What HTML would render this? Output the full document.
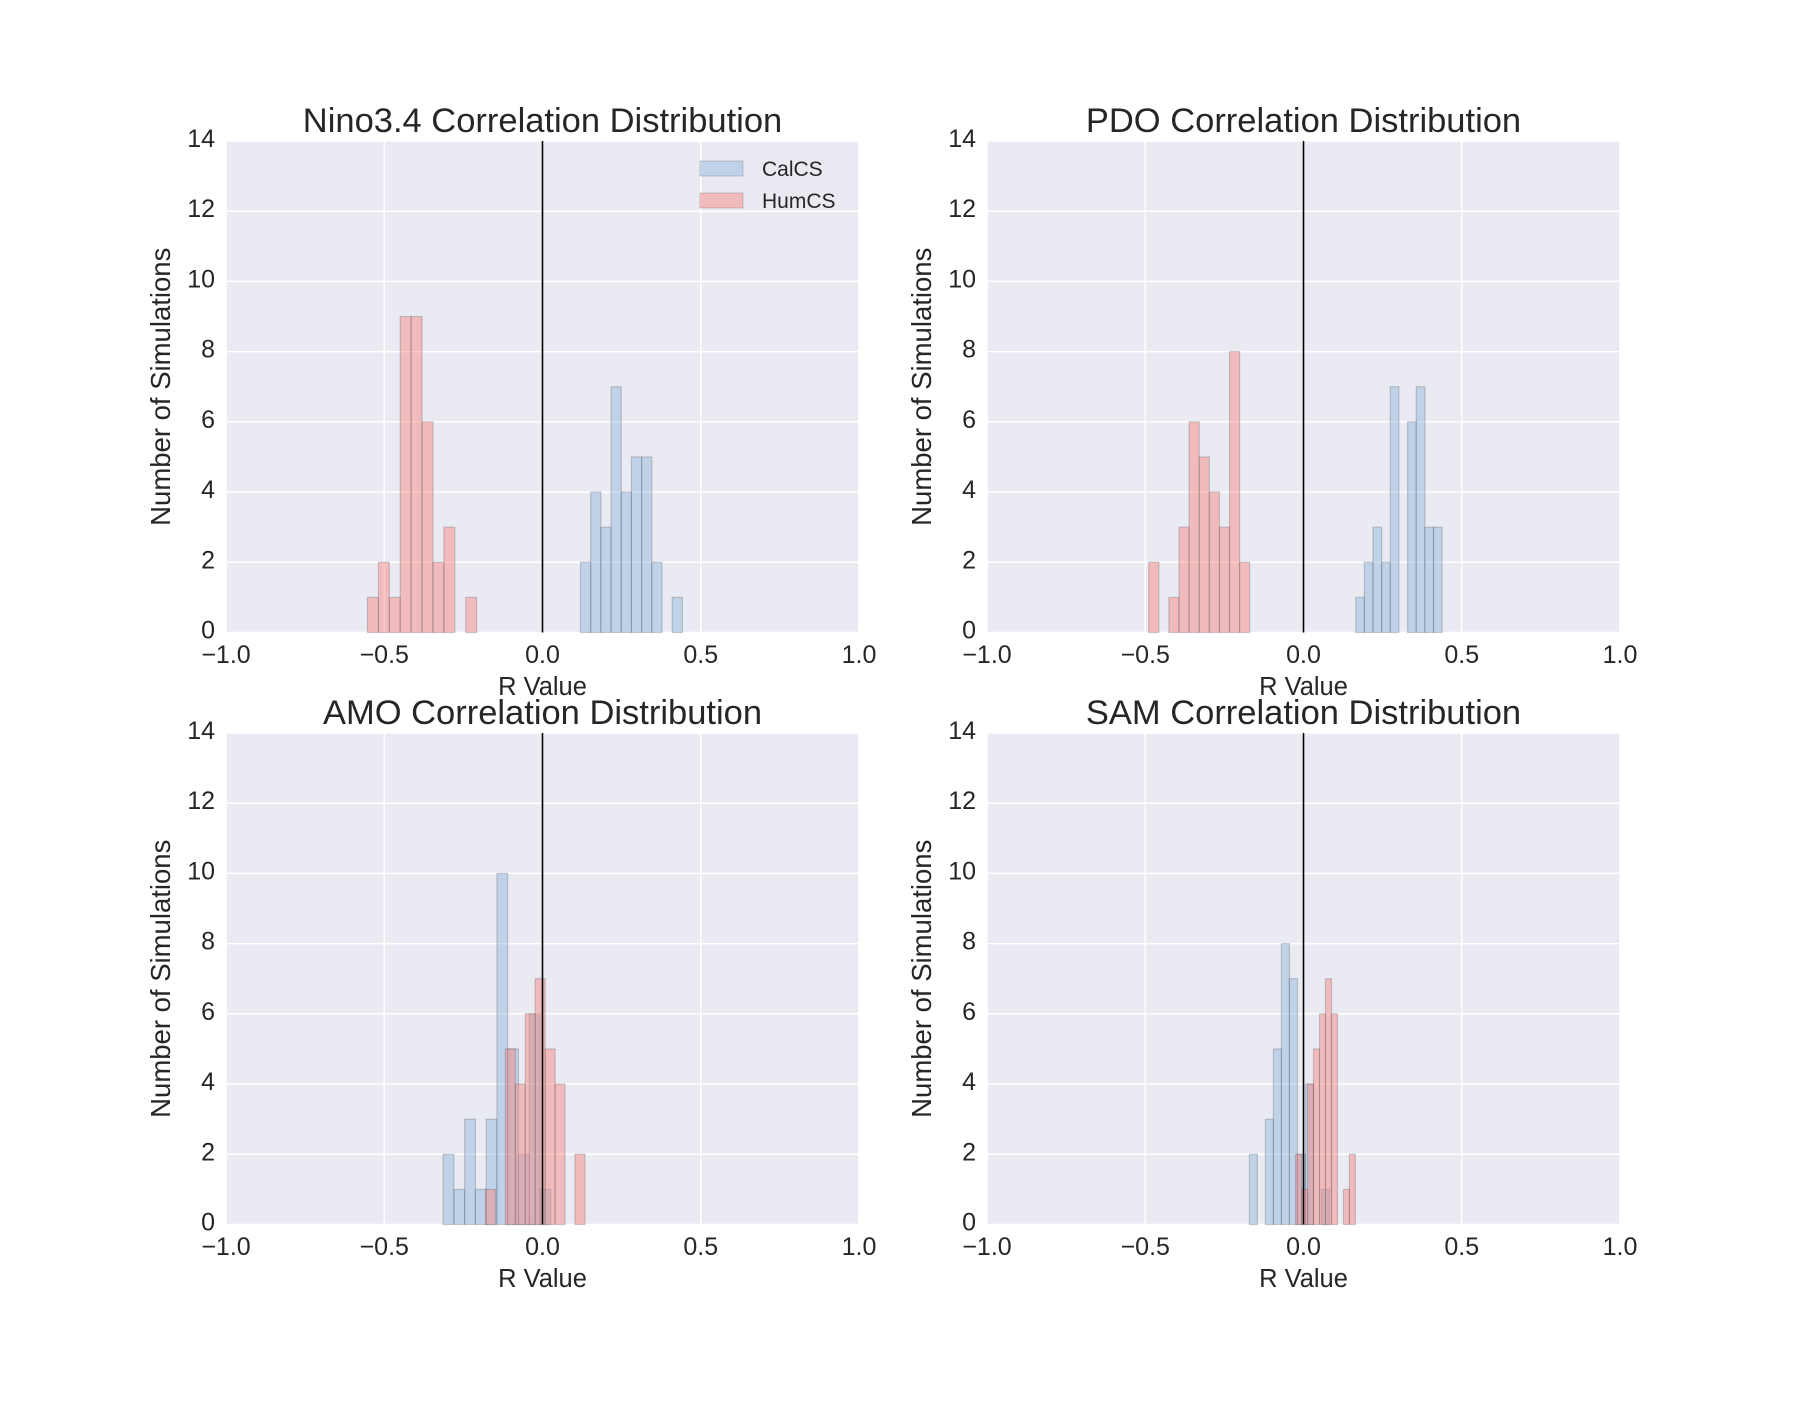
<!DOCTYPE html>
<html><head><meta charset="utf-8"><style>
html,body{margin:0;padding:0;background:#fff;}
svg text{font-family:"Liberation Sans",sans-serif;fill:#262626;}
</style></head><body>
<svg id="fig" width="1800" height="1400" viewBox="0 0 1800 1400" xmlns="http://www.w3.org/2000/svg"></svg>
<script>
// Data per panel: bin start, bin width, counts
const titles = ["Nino3.4 Correlation Distribution","PDO Correlation Distribution","AMO Correlation Distribution","SAM Correlation Distribution"];
const calStart = [0.120, 0.165, -0.314, -0.171];
const calWidth = [0.0322, 0.0273, 0.034, 0.0253];
const calCounts = [
  [2,4,3,7,4,5,5,2,0,1],
  [1,2,3,2,7,0,6,7,3,3],
  [2,1,3,1,3,10,5,2,6,1],
  [2,0,3,5,8,7,2,4,0,1]
];
const humStart = [-0.553, -0.489, -0.180, -0.025];
const humWidth = [0.0345, 0.0319, 0.0314, 0.0189];
const humCounts = [
  [1,2,1,9,9,6,2,3,0,1],
  [2,0,1,3,6,5,4,3,8,2],
  [1,0,5,4,6,7,5,4,0,2],
  [2,1,4,5,6,7,6,0,1,2]
];
const xTicks = [-1.0,-0.5,0.0,0.5,1.0];
const xTickLabels = ["\u22121.0","\u22120.5","0.0","0.5","1.0"];
const yTicks = [0,2,4,6,8,10,12,14];

const NS="http://www.w3.org/2000/svg";
const svg=document.getElementById('fig');
function mk(tag,attrs,parent){const e=document.createElementNS(NS,tag);for(const k in attrs)e.setAttribute(k,attrs[k]);(parent||svg).appendChild(e);return e;}
const panels=[{l:226,t:141},{l:987,t:141},{l:226,t:733},{l:987,t:733}];
const W=633,H=491.5;
panels.forEach((p,i)=>{
  const g=mk('g',{});
  
  
  const xs=v=>p.l+(v+1)/2*W;
  const ys=v=>p.t+H-v/14*H;
  const bg=mk('rect',{x:p.l,y:p.t,width:W,height:H,fill:'#eaeaf2'},g);
  
  
  xTicks.forEach((v,k)=>{
    const gl=mk('line',{x1:xs(v),x2:xs(v),y1:p.t,y2:p.t+H,stroke:'#fff','stroke-width':1.5},g);
    
    
    const tl=mk('text',{x:xs(v),y:p.t+H+30.5,'text-anchor':'middle','font-size':25},g);
    tl.textContent=xTickLabels[k];
    
    
  });
  yTicks.forEach(v=>{
    const gl=mk('line',{x1:p.l,x2:p.l+W,y1:ys(v),y2:ys(v),stroke:'#fff','stroke-width':1.5},g);
    
    
    const tl=mk('text',{x:p.l-11,y:ys(v)+6,'text-anchor':'end','font-size':25},g);
    tl.textContent=String(v);
    
    
  });
  function bars(start,w,counts,fill,name){
    counts.forEach((c,k)=>{
      if(c<=0)return;
      const x0=xs(start+k*w),x1=xs(start+(k+1)*w);
      const r=mk('rect',{x:x0,y:ys(c),width:x1-x0,height:ys(0)-ys(c),fill:fill,stroke:'rgba(70,70,80,0.25)','stroke-width':1.2},g);
      
      
    });
  }
  bars(calStart[i],calWidth[i],calCounts[i],'rgba(130,175,215,0.4)','calcs');
  bars(humStart[i],humWidth[i],humCounts[i],'rgba(250,130,125,0.45)','humcs');
  const zl=mk('line',{x1:xs(0),x2:xs(0),y1:p.t,y2:p.t+H,stroke:'#000','stroke-width':1.6},g);
  
  
  const tt=mk('text',{x:p.l+W/2,y:p.t-9,'text-anchor':'middle','font-size':34.5},g);
  tt.textContent=titles[i];
  
  
  const xl=mk('text',{x:p.l+W/2,y:p.t+H+62.5,'text-anchor':'middle','font-size':25.5},g);
  xl.textContent='R Value';
  
  
  const cy=p.t+H/2;
  const yl=mk('text',{x:0,y:0,'text-anchor':'middle','font-size':27.5,transform:'translate('+(p.l-56)+','+cy+') rotate(-90)'},g);
  yl.textContent='Number of Simulations';
  
  
});
// legend in first panel
const lg=mk('g',{});


const e1=mk('rect',{x:700,y:161,width:43,height:15,fill:'rgba(130,175,215,0.4)',stroke:'rgba(70,70,80,0.25)'},lg);


const t1=mk('text',{x:762,y:176,'font-size':21},lg);t1.textContent='CalCS';


const e2=mk('rect',{x:700,y:193,width:43,height:15,fill:'rgba(250,130,125,0.45)',stroke:'rgba(70,70,80,0.25)'},lg);


const t2=mk('text',{x:762,y:208,'font-size':21},lg);t2.textContent='HumCS';


</script>
</body></html>
